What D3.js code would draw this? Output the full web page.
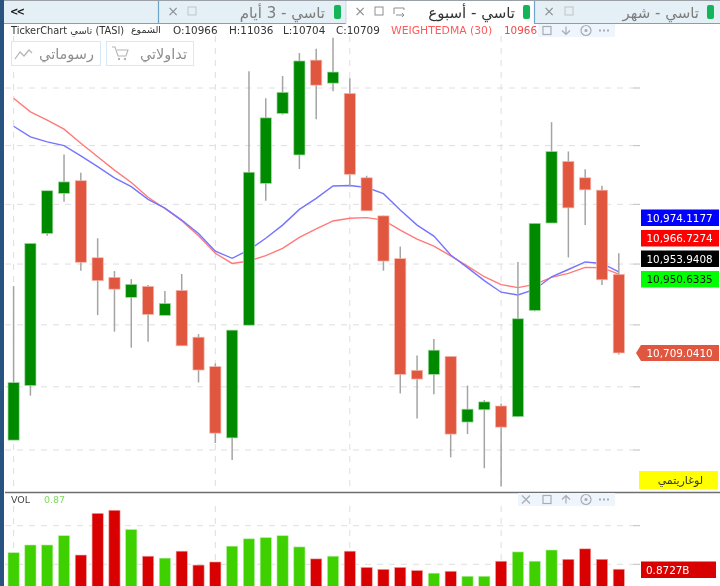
<!DOCTYPE html>
<html>
<head>
<meta charset="utf-8">
<script src="https://cdn.jsdelivr.net/npm/d3@7"></script>
<style>
  html, body { margin: 0; padding: 0; background: #fff; }
  svg { display: block; filter: blur(0.4px); }
  text { font-family: "DejaVu Sans", sans-serif; }
</style>
</head>
<body>
<svg id="chart" width="720" height="586"></svg>
<script>
const opens = [10431, 10604, 11102, 11237, 11280, 11021, 10956, 10890, 10926, 10831, 10913, 10760, 10665, 10438, 10799, 11271, 11511, 11368, 11698, 11617, 11581, 11290, 11161, 11018, 10653, 10640, 10698, 10488, 10527, 10539, 10505, 10847, 11137, 11346, 11290, 11248, 10966];
const closes = [10614, 11069, 11246, 11276, 11006, 10945, 10917, 10933, 10834, 10870, 10732, 10654, 10453, 10783, 11309, 11496, 11585, 11695, 11610, 11656, 11302, 11178, 11010, 10640, 10625, 10718, 10450, 10529, 10552, 10472, 10820, 11136, 11380, 11188, 11249, 10948, 10709];
const highs = [10927, 11069, 11246, 11370, 11307, 11086, 10977, 10950, 10931, 10911, 10967, 10770, 10675, 10783, 11659, 11564, 11642, 11723, 11738, 11777, 11634, 11297, 11162, 11058, 10701, 10754, 10698, 10604, 10558, 10547, 11007, 11136, 11481, 11380, 11319, 11263, 11036];
const lows = [10431, 10572, 11094, 11209, 10978, 10832, 10778, 10726, 10745, 10831, 10732, 10614, 10422, 10369, 10799, 11212, 11507, 11320, 11491, 11589, 11260, 11178, 10978, 10579, 10499, 10576, 10377, 10450, 10343, 10286, 10505, 10844, 11137, 11022, 11130, 10931, 10704];
const maRed = [11564, 11517, 11488, 11457, 11408, 11362, 11316, 11274, 11224, 11186, 11145, 11094, 11036, 11002, 11010, 11028, 11052, 11089, 11117, 11144, 11153, 11155, 11147, 11113, 11083, 11060, 11027, 10993, 10958, 10932, 10922, 10933, 10956, 10969, 10989, 10988, 10966.7];
const maBlue = [11467, 11430, 11413, 11400, 11365, 11328, 11290, 11260, 11217, 11187, 11147, 11102, 11043, 11019, 11047, 11086, 11130, 11183, 11220, 11262, 11264, 11257, 11236, 11181, 11130, 11093, 11030, 10988, 10945, 10907, 10898, 10916, 10958, 10982, 11007, 11002, 10974.1];
const volumes = [1.30, 1.50, 1.50, 1.74, 1.24, 2.32, 2.40, 1.90, 1.21, 1.16, 1.34, 0.98, 1.06, 1.47, 1.66, 1.69, 1.74, 1.45, 1.14, 1.21, 1.34, 0.92, 0.87, 0.92, 0.84, 0.77, 0.82, 0.69, 0.69, 1.08, 1.32, 1.08, 1.37, 1.13, 1.40, 1.13, 0.8727];
const volUp = [1, 1, 1, 1, 0, 0, 0, 1, 0, 1, 0, 0, 0, 1, 1, 1, 1, 1, 0, 1, 0, 0, 0, 0, 0, 1, 0, 1, 1, 0, 1, 1, 1, 0, 0, 0, 0];
const priceTicks = [10400, 10600, 10800, 11000, 11200, 11400, 11600];
const volTicks = [1, 2];
const gridBars = [0, 12, 20, 29];
const tabTitles = ["تاسي - 3 أيام", "تاسي - أسبوع", "تاسي - شهر"];

const svg = d3.select("#chart");

const x = d3.scaleLinear().domain([0, 36]).range([13.6, 618.8]);
const y = d3.scaleLog().domain([10400, 11600]).range([450, 88]);
const yVol = d3.scaleLinear().domain([0, 1, 2]).range([602.9, 564.3, 525.7]);

const GRID = "#dedede";
const GREEN = "#008a00";
const RED = "#e0563f";

// grid
const grid = svg.append("g");
grid.selectAll(".hgrid")
  .data(priceTicks)
  .enter()
  .append("line")
  .attr("x1", 5).attr("x2", 633)
  .attr("y1", (d) => y(d)).attr("y2", (d) => y(d))
  .attr("stroke", GRID).attr("stroke-width", 1).attr("stroke-dasharray", "6,6");
grid.selectAll(".htick")
  .data(priceTicks)
  .enter()
  .append("line")
  .attr("x1", 633).attr("x2", 640)
  .attr("y1", (d) => y(d)).attr("y2", (d) => y(d))
  .attr("stroke", "#bdbdbd");
grid.selectAll(".vgrid")
  .data(gridBars)
  .enter()
  .append("line")
  .attr("x1", (d) => x(d)).attr("x2", (d) => x(d))
  .attr("y1", 36).attr("y2", 491)
  .attr("stroke", GRID).attr("stroke-dasharray", "6,6");
grid.selectAll(".vgridvol")
  .data(gridBars)
  .enter()
  .append("line")
  .attr("x1", (d) => x(d)).attr("x2", (d) => x(d))
  .attr("y1", 506).attr("y2", 586)
  .attr("stroke", GRID).attr("stroke-dasharray", "6,6");
grid.selectAll(".hgridvol")
  .data(volTicks)
  .enter()
  .append("line")
  .attr("x1", 5).attr("x2", 633)
  .attr("y1", (d) => yVol(d)).attr("y2", (d) => yVol(d))
  .attr("stroke", GRID).attr("stroke-dasharray", "6,6");
grid.selectAll(".htickvol")
  .data(volTicks)
  .enter()
  .append("line")
  .attr("x1", 633).attr("x2", 640)
  .attr("y1", (d) => yVol(d)).attr("y2", (d) => yVol(d))
  .attr("stroke", "#bdbdbd");

// moving averages sit behind the candles
const maLine = d3.line().x((d, i) => x(i)).y((d) => y(d));
svg.append("path").attr("d", maLine(maRed)).attr("fill", "none").attr("stroke", "#ff7a7a").attr("stroke-width", 1.4);
svg.append("path").attr("d", maLine(maBlue)).attr("fill", "none").attr("stroke", "#7474ff").attr("stroke-width", 1.4);

// candles
const candles = svg.append("g");
candles.selectAll(".wick")
  .data(opens)
  .enter()
  .append("line")
  .attr("x1", (d, i) => x(i)).attr("x2", (d, i) => x(i))
  .attr("y1", (d, i) => y(highs[i])).attr("y2", (d, i) => y(lows[i]))
  .attr("stroke", "#a4a4a4").attr("stroke-width", 1.5);
candles.selectAll(".body")
  .data(opens)
  .enter()
  .append("rect")
  .attr("x", (d, i) => x(i) - 5.6)
  .attr("width", 11.2)
  .attr("y", (d, i) => y(Math.max(d, closes[i])))
  .attr("height", (d, i) => Math.abs(y(d) - y(closes[i])))
  .attr("fill", (d, i) => (closes[i] > d ? GREEN : RED))
  .attr("stroke", (d, i) => (closes[i] > d ? "#a6dca6" : "#f6b8ac"))
  .attr("stroke-width", 0.7);

// volume pane
svg.append("defs").append("clipPath").attr("id", "volClip")
  .append("rect").attr("x", 0).attr("y", 493).attr("width", 640).attr("height", 93);
svg.append("g").attr("clip-path", "url(#volClip)")
  .selectAll("rect")
  .data(volumes)
  .enter()
  .append("rect")
  .attr("x", (d, i) => x(i) - 5.6)
  .attr("width", 11.2)
  .attr("y", (d) => yVol(d))
  .attr("height", (d) => yVol(0) - yVol(d))
  .attr("fill", (d, i) => (volUp[i] ? "#3fd000" : "#d80000"))
  .attr("stroke", (d, i) => (volUp[i] ? "#b4eea0" : "#f2a8a8"))
  .attr("stroke-width", 0.6);

svg.append("line").attr("x1", 5).attr("x2", 720).attr("y1", 492.5).attr("y2", 492.5)
  .attr("stroke", "#6e6e6e").attr("stroke-width", 1.6);

// tab strip
const tabs = svg.append("g");
tabs.append("rect").attr("x", 0).attr("y", 0).attr("width", 720).attr("height", 24).attr("fill", "#e4eff6");
tabs.append("rect").attr("x", 346).attr("y", 1).attr("width", 188).attr("height", 23).attr("fill", "#fff");
tabs.append("line").attr("x1", 0).attr("x2", 720).attr("y1", 0.5).attr("y2", 0.5).attr("stroke", "#9aa0a6");
tabs.append("path").attr("d", "M158.5 1V23.5H346").attr("fill", "none").attr("stroke", "#6fa5c8").attr("stroke-width", 1.2);
tabs.append("path").attr("d", "M4 23.5H158").attr("fill", "none").attr("stroke", "#6fa5c8").attr("stroke-width", 1.2);
tabs.append("path").attr("d", "M534.5 1V23.5H720").attr("fill", "none").attr("stroke", "#6fa5c8").attr("stroke-width", 1.2);
tabs.append("line").attr("x1", 346).attr("x2", 346).attr("y1", 1).attr("y2", 24).attr("stroke", "#cfd8de");

tabs.append("text").attr("x", 10).attr("y", 15)
  .attr("font-size", 10).attr("font-weight", "bold").attr("letter-spacing", -2).attr("fill", "#111").text("<<");

const tabRight = [325, 515, 699];
const pillX = [334, 523, 707];
const tabFill = ["#7d7d7d", "#333", "#7d7d7d"];
tabs.selectAll(".title")
  .data(tabTitles)
  .enter()
  .append("text")
  .attr("x", (d, i) => tabRight[i])
  .attr("y", 18)
  .attr("font-size", 15)
  .attr("text-anchor", "start")
  .attr("direction", "rtl")
  .attr("fill", (d, i) => tabFill[i])
  .text((d) => d);
tabs.selectAll(".pill")
  .data(pillX)
  .enter()
  .append("rect")
  .attr("x", (d) => d).attr("y", 5).attr("width", 7).attr("height", 14).attr("rx", 2)
  .attr("fill", "#14b45a");

const closeX = [173, 360, 549];
const boxX = [192, 379, 569];
tabs.selectAll(".cross")
  .data(closeX)
  .enter()
  .append("text")
  .attr("x", (d) => d).attr("y", 16).attr("text-anchor", "middle")
  .attr("font-size", 14).attr("fill", "#8b8f93").text("×");
tabs.selectAll(".box")
  .data(boxX)
  .enter()
  .append("rect")
  .attr("x", (d) => d - 4).attr("y", 7).attr("width", 8).attr("height", 8)
  .attr("fill", "none").attr("stroke", (d, i) => (i === 1 ? "#8b8f93" : "#bfc4c8")).attr("stroke-width", 1);
tabs.append("path")
  .attr("d", "M394 14V8H404V10M404 15H396M402 13l2 2-2 2")
  .attr("fill", "none").attr("stroke", "#8b8f93");

// left edge
svg.append("rect").attr("x", 0).attr("y", 0).attr("width", 4).attr("height", 586).attr("fill", "#28527f");

// chart header
const header = svg.append("g").attr("font-size", 10.4).attr("fill", "#333");
header.append("text").attr("x", 11).attr("y", 34).attr("font-size", 9.8).text("TickerChart تاسي (TASI)");
header.append("text").attr("x", 161).attr("y", 33).attr("font-size", 9.5).attr("text-anchor", "end").text("الشموع");
const ohlcLabels = ["O:10966", "H:11036", "L:10704", "C:10709"];
const ohlcX = [173, 229, 283, 336];
header.selectAll(".ohlc")
  .data(ohlcLabels)
  .enter()
  .append("text")
  .attr("x", (d, i) => ohlcX[i]).attr("y", 34).text((d) => d);
header.append("text").attr("x", 391).attr("y", 34).attr("font-size", 10.8).attr("fill", "#ff5a5a").text("WEIGHTEDMA (30)");
header.append("text").attr("x", 504).attr("y", 34).attr("fill", "#f04a4a").text("10966");

// pane toolbars
function paneTools(top, startX, first) {
  const g = svg.append("g").attr("fill", "none").attr("stroke", "#a9adb2").attr("stroke-width", 1.2);
  g.append("rect").attr("x", startX).attr("y", top).attr("width", 615 - startX).attr("height", 13)
    .attr("fill", "#eef5fc").attr("stroke", "none");
  const c = top + 6.5;
  if (first) {
    g.append("path").attr("d", `M522 ${c - 4}l8 8m0-8l-8 8`);
  }
  g.append("rect").attr("x", 543).attr("y", c - 4).attr("width", 8).attr("height", 8);
  const dir = first ? -1 : 1;
  g.append("path").attr("d", `M566 ${c - 4}v8M562 ${c}l4 ${dir * 4} 4 ${-dir * 4}`);
  g.append("circle").attr("cx", 586).attr("cy", c).attr("r", 5);
  g.append("circle").attr("cx", 586).attr("cy", c).attr("r", 1).attr("fill", "#a9adb2");
  g.append("path").attr("d", `M599 ${c}h2m2 0h2m2 0h2`).attr("stroke-width", 2);
}
paneTools(24, 538, false);
paneTools(493, 518, true);

// my charts / my trades buttons
const buttonLabels = ["رسوماتي", "تداولاتي"];
const buttonX = [11, 106];
const buttonW = [89, 87];
const buttons = svg.append("g");
buttons.selectAll("rect")
  .data(buttonX)
  .enter()
  .append("rect")
  .attr("x", (d) => d + 0.5).attr("y", 41.5)
  .attr("width", (d, i) => buttonW[i]).attr("height", 24)
  .attr("fill", "#fff").attr("stroke", "#d8e8f4");
buttons.selectAll("text")
  .data(buttonLabels)
  .enter()
  .append("text")
  .attr("x", (d, i) => buttonX[i] + buttonW[i] - 6)
  .attr("y", 59)
  .attr("font-size", 14.5).attr("direction", "rtl").attr("fill", "#8e8e8e")
  .text((d) => d);
buttons.append("path").attr("d", "M15 59l5-7 4 4 5-6 3 3").attr("fill", "none").attr("stroke", "#b4b4b4").attr("stroke-width", 1.2);
buttons.append("path").attr("d", "M112 47h3l3 9h8l2-6h-11").attr("fill", "none").attr("stroke", "#b4b4b4").attr("stroke-width", 1.1);
buttons.append("circle").attr("cx", 119).attr("cy", 59).attr("r", 1.2).attr("fill", "#b4b4b4");
buttons.append("circle").attr("cx", 125).attr("cy", 59).attr("r", 1.2).attr("fill", "#b4b4b4");

// right hand price flags
const flagText = ["10,974.1177", "10,966.7274", "10,953.9408", "10,950.6335"];
const flagTop = [209.5, 230, 250.5, 271];
const flagFill = ["#0000ff", "#ff0000", "#000", "#00ff00"];
const flagInk = ["#fff", "#fff", "#fff", "#111"];
const flags = svg.append("g");
flags.selectAll("rect")
  .data(flagText)
  .enter()
  .append("rect")
  .attr("x", 641).attr("y", (d, i) => flagTop[i]).attr("width", 78).attr("height", 16.5)
  .attr("fill", (d, i) => flagFill[i]);
flags.selectAll("text")
  .data(flagText)
  .enter()
  .append("text")
  .attr("x", 646.5).attr("y", (d, i) => flagTop[i] + 12.3)
  .attr("font-size", 10.4).attr("fill", (d, i) => flagInk[i]).text((d) => d);

flags.append("path").attr("d", "M636 353L641 345H719V361H641Z").attr("fill", RED);
flags.append("text").attr("x", 646.5).attr("y", 357).attr("font-size", 10.4).attr("fill", "#fff").text("10,709.0410");

flags.append("rect").attr("x", 639).attr("y", 471).attr("width", 79).attr("height", 18).attr("fill", "#ffff00");
flags.append("text").attr("x", 703).attr("y", 484).attr("font-size", 11).attr("direction", "rtl").attr("fill", "#333").text("لوغاريتمي");

flags.append("rect").attr("x", 641).attr("y", 561.5).attr("width", 75).attr("height", 16.5).attr("fill", "#d80000");
flags.append("text").attr("x", 646).attr("y", 574).attr("font-size", 10.4).attr("fill", "#fff").text("0.8727B");

// volume legend
svg.append("text").attr("x", 11).attr("y", 503).attr("font-size", 9.5).attr("fill", "#444").text("VOL");
svg.append("text").attr("x", 44).attr("y", 503).attr("font-size", 9.5).attr("fill", "#7edc5a").text("0.87");
</script>
</body>
</html>
